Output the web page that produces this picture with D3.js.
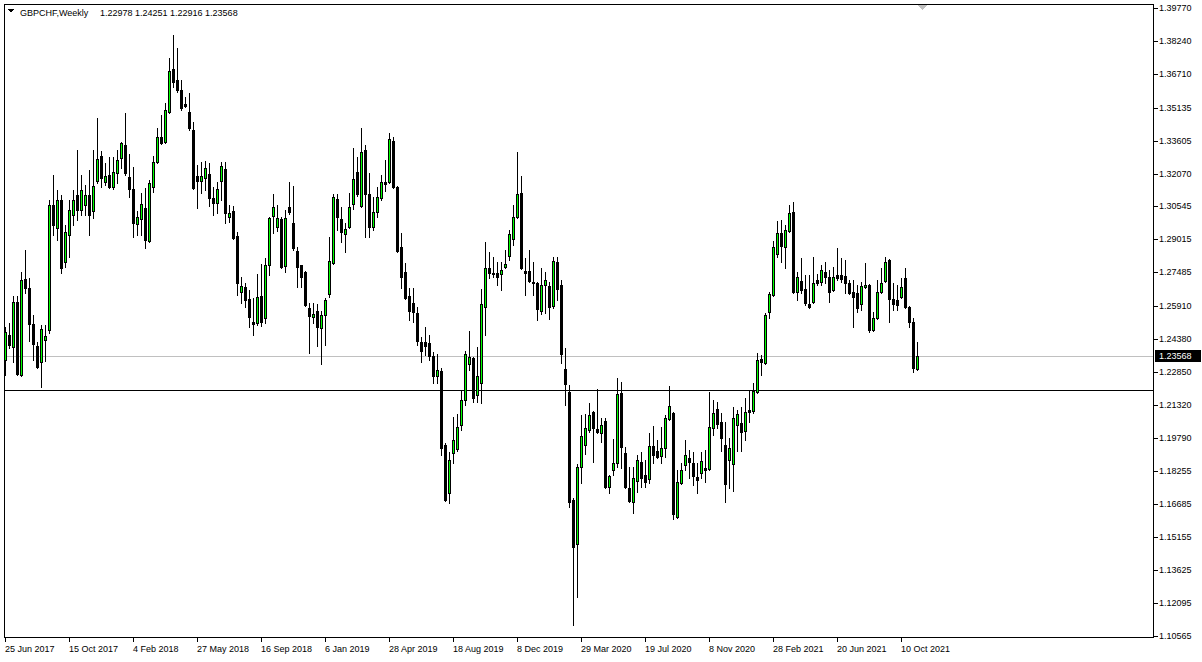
<!DOCTYPE html>
<html><head><meta charset="utf-8">
<script src="https://cdn.jsdelivr.net/npm/d3@7"></script>
<style>
html,body{margin:0;padding:0;background:#fff;overflow:hidden;}
svg{display:block;}
text{font-family:"Liberation Sans",Arial,sans-serif;font-size:9px;fill:#000;}
</style>
</head><body><svg id="c" width="1202" height="662"></svg>
<script>
const symbolLabel = "GBPCHF,Weekly";
const lastBarLabel = "1.22978 1.24251 1.22916 1.23568";

const opens = [
1.2340,1.2456,1.2401,1.2610,1.2270,1.2717,1.2675,1.2508,1.2405,1.2331,
1.2433,1.2480,1.3061,1.2954,1.3084,1.2796,1.2921,1.3014,1.3107,1.3038,
1.3061,1.3107,1.3033,1.3173,1.3289,1.3168,1.3200,1.3145,1.3210,1.3280,
1.3340,1.3191,1.3135,1.2973,1.2996,1.3047,1.2894,1.3145,1.3261,1.3377,
1.3354,1.3493,1.3693,1.3642,1.3596,1.3531,1.3493,1.3410,1.3196,1.3173,
1.3187,1.3205,1.3093,1.3070,1.3173,1.3228,1.3005,1.3033,1.2917,1.2656,
1.2680,1.2624,1.2517,1.2512,1.2638,1.2535,1.2782,1.3010,1.2959,1.2998,
1.2777,1.3052,1.2977,1.2847,1.2780,1.2749,1.2582,1.2540,1.2568,1.2489,
1.2549,1.2647,1.2791,1.3089,1.2996,1.2926,1.2959,1.3066,1.3214,1.3056,
1.3317,1.3112,1.2959,1.3028,1.3093,1.3168,1.3168,1.3360,1.3145,1.2866,
1.2749,1.2638,1.2605,1.2559,1.2424,1.2424,1.2419,1.2359,1.2266,1.2289,
1.1945,1.1722,1.1908,1.1926,1.2038,1.2154,1.2322,1.2350,1.2177,1.2233,
1.2587,1.2768,1.2745,1.2745,1.2740,1.2773,1.2824,1.2903,1.3005,1.3117,
1.2754,1.2754,1.2703,1.2698,1.2568,1.2689,1.2684,1.2591,1.2796,1.2689,
1.2298,1.2191,1.1689,1.1484,1.1843,1.1945,1.2015,1.2098,1.2019,1.2000,
1.2057,1.1750,1.1829,1.1861,1.2187,1.1908,1.1745,1.1680,1.1777,1.1866,
1.1805,1.1787,1.1940,1.1917,1.1894,1.1931,1.2066,1.2094,1.1610,1.1768,
1.1852,1.1884,1.1861,1.1796,1.1815,1.1838,1.1833,1.2024,1.2112,1.2052,
1.1945,1.1875,1.1857,1.2038,1.2047,1.2010,1.2108,1.2103,1.2191,1.2345,
1.2326,1.2563,1.2642,1.2833,1.2931,1.2866,1.2940,1.3028,1.2656,1.2707,
1.2670,1.2600,1.2610,1.2712,1.2703,1.2749,1.2726,1.2666,1.2735,1.2735,
1.2731,1.2698,1.2656,1.2652,1.2600,1.2680,1.2689,1.2480,1.2535,1.2656,
1.2707,1.2805,1.2624,1.2619,1.2633,1.2721,1.2587,1.2517,1.22978];

const highs = [
1.2494,1.2512,1.2638,1.2638,1.2749,1.2852,1.2722,1.2549,1.2424,1.2503,
1.2503,1.3084,1.3200,1.3131,1.3107,1.2968,1.3084,1.3131,1.3317,1.3200,
1.3154,1.3224,1.3317,1.3466,1.3312,1.3256,1.3284,1.3284,1.3317,1.3354,
1.3489,1.3298,1.3238,1.3033,1.3117,1.3140,1.3177,1.3289,1.3419,1.3479,
1.3535,1.3745,1.3851,1.3791,1.3642,1.3563,1.3582,1.3447,1.3247,1.3261,
1.3266,1.3256,1.3145,1.3168,1.3261,1.3261,1.3061,1.3056,1.2935,1.2726,
1.2698,1.2666,1.2629,1.2740,1.2787,1.2815,1.3005,1.3112,1.3061,1.3005,
1.3038,1.3168,1.3149,1.2866,1.2784,1.2752,1.2605,1.2605,1.2600,1.2568,
1.2629,1.2912,1.3112,1.3112,1.3052,1.2977,1.3117,1.3326,1.3284,1.3419,
1.3340,1.3210,1.3098,1.3145,1.3200,1.3270,1.3396,1.3377,1.3150,1.2931,
1.2791,1.2675,1.2675,1.2587,1.2447,1.2494,1.2456,1.2377,1.2368,1.2303,
1.1954,1.1912,1.2075,1.2089,1.2201,1.2382,1.2475,1.2354,1.2401,1.2670,
1.2889,1.2842,1.2819,1.2796,1.2796,1.2852,1.2945,1.3061,1.3307,1.3196,
1.2815,1.2852,1.2796,1.2703,1.2768,1.2749,1.2703,1.2819,1.2819,1.2712,
1.2396,1.2224,1.1698,1.1857,1.2084,1.2089,1.2140,1.2103,1.2205,1.2071,
1.2071,1.1805,1.1973,1.2257,1.2238,1.1936,1.1843,1.1843,1.1898,1.1912,
1.1875,1.2000,1.2033,1.1968,1.2029,1.2084,1.2219,1.2098,1.1829,1.1861,
1.1968,1.1922,1.1912,1.1861,1.1912,1.1922,1.2191,1.2154,1.2145,1.2094,
1.2052,1.1977,1.2121,1.2108,1.2121,1.2163,1.2196,1.2233,1.2373,1.2363,
1.2559,1.2656,1.2894,1.2986,1.2991,1.2968,1.3061,1.3075,1.2749,1.2815,
1.2735,1.2735,1.2819,1.2740,1.2782,1.2796,1.2759,1.2773,1.2861,1.2815,
1.2805,1.2712,1.2712,1.2689,1.2703,1.2791,1.2694,1.2563,1.2712,1.2768,
1.2819,1.2810,1.2698,1.2689,1.2721,1.2768,1.2591,1.2535,1.24251];

const lows = [
1.2270,1.2396,1.2331,1.2270,1.2266,1.2652,1.2429,1.2340,1.2303,1.2215,
1.2336,1.2466,1.2921,1.2898,1.2745,1.2773,1.2819,1.2968,1.2991,1.3014,
1.3014,1.2921,1.3000,1.3163,1.3145,1.3154,1.3140,1.3135,1.3163,1.3233,
1.3200,1.3098,1.2912,1.2921,1.2921,1.2861,1.2889,1.3121,1.3256,1.3345,
1.3349,1.3489,1.3610,1.3586,1.3503,1.3517,1.3410,1.3135,1.3047,1.3117,
1.3131,1.3056,1.3014,1.3024,1.3084,1.2977,1.2982,1.2903,1.2642,1.2605,
1.2587,1.2494,1.2456,1.2503,1.2498,1.2512,1.2735,1.2931,1.2940,1.2768,
1.2749,1.3020,1.2852,1.2680,1.2680,1.2591,1.2373,1.2512,1.2405,1.2322,
1.2410,1.2633,1.2787,1.2945,1.2889,1.2842,1.2954,1.3042,1.3103,1.3052,
1.2912,1.2912,1.2945,1.3005,1.3084,1.3126,1.3163,1.3140,1.2842,1.2675,
1.2624,1.2526,1.2517,1.2410,1.2331,1.2363,1.2340,1.2233,1.2233,1.1898,
1.1685,1.1675,1.1861,1.1917,1.2015,1.2131,1.2294,1.2145,1.2145,1.2140,
1.2456,1.2721,1.2726,1.2689,1.2666,1.2768,1.2805,1.2875,1.3000,1.2763,
1.2642,1.2703,1.2642,1.2526,1.2554,1.2559,1.2531,1.2582,1.2619,1.2326,
1.2131,1.1657,1.1108,1.1238,1.1768,1.1903,1.2005,1.1866,1.2000,1.1959,
1.1745,1.1722,1.1805,1.1843,1.1838,1.1745,1.1680,1.1629,1.1726,1.1750,
1.1750,1.1768,1.1861,1.1884,1.1861,1.1889,1.2061,1.1601,1.1605,1.1763,
1.1829,1.1791,1.1759,1.1722,1.1791,1.1773,1.1829,1.1991,1.2024,1.1917,
1.1680,1.1745,1.1731,1.1917,1.1917,1.1968,1.2052,1.2094,1.2187,1.2270,
1.2322,1.2535,1.2638,1.2819,1.2796,1.2768,1.2935,1.2652,1.2619,1.2652,
1.2596,1.2582,1.2605,1.2689,1.2689,1.2698,1.2610,1.2661,1.2712,1.2703,
1.2652,1.2647,1.2494,1.2563,1.2573,1.2675,1.2470,1.2475,1.2531,1.2652,
1.2703,1.2517,1.2573,1.2573,1.2628,1.2582,1.2494,1.2284,1.22916];

const closes = [
1.2470,1.2410,1.2610,1.2275,1.2712,1.2675,1.2508,1.2415,1.2308,1.2484,
1.2452,1.3061,1.2968,1.3084,1.2768,1.2935,1.3038,1.3084,1.3038,1.3131,
1.3107,1.3014,1.3149,1.3275,1.3187,1.3196,1.3145,1.3214,1.3270,1.3349,
1.3210,1.3135,1.2977,1.3005,1.3066,1.2898,1.3163,1.3261,1.3377,1.3349,
1.3503,1.3684,1.3633,1.3596,1.3512,1.3521,1.3419,1.3140,1.3173,1.3196,
1.3233,1.3093,1.3070,1.3135,1.3242,1.3024,1.3024,1.2908,1.2698,1.2684,
1.2619,1.2540,1.2508,1.2633,1.2517,1.2782,1.3000,1.3052,1.3000,1.2773,
1.3000,1.3028,1.2861,1.2773,1.2726,1.2596,1.2545,1.2554,1.2494,1.2549,
1.2619,1.2800,1.3098,1.3005,1.2935,1.2949,1.3052,1.3182,1.3112,1.3307,
1.3112,1.2959,1.3028,1.3098,1.3168,1.3159,1.3370,1.3145,1.2847,1.2726,
1.2629,1.2568,1.2563,1.2429,1.2382,1.2405,1.2359,1.2266,1.2294,1.1931,
1.1689,1.1875,1.1968,1.2029,1.2154,1.2368,1.2354,1.2164,1.2266,1.2600,
1.2768,1.2745,1.2740,1.2726,1.2759,1.2787,1.2926,1.3005,1.3112,1.2768,
1.2745,1.2707,1.2698,1.2577,1.2689,1.2712,1.2587,1.2800,1.2670,1.2368,
1.2229,1.1680,1.1470,1.1843,1.1987,1.2024,1.2084,1.2024,1.2005,1.2038,
1.1750,1.1801,1.1861,1.2182,1.1936,1.1750,1.1685,1.1791,1.1875,1.1791,
1.1773,1.1940,1.1898,1.1889,1.1931,1.2071,1.2126,1.1624,1.1773,1.1829,
1.1898,1.1866,1.1801,1.1782,1.1870,1.1829,1.2029,1.2094,1.2043,1.1977,
1.1763,1.1931,1.2071,1.2089,1.2005,1.2098,1.2098,1.2196,1.2340,1.2331,
1.2549,1.2647,1.2866,1.2931,1.2870,1.2945,1.3024,1.2656,1.2726,1.2666,
1.2605,1.2587,1.2698,1.2698,1.2759,1.2726,1.2656,1.2726,1.2721,1.2717,
1.2698,1.2652,1.2633,1.2582,1.2684,1.2689,1.2480,1.2535,1.2656,1.2698,
1.2796,1.2624,1.2600,1.2596,1.2680,1.2587,1.2517,1.2303,1.23568];

const priceTicks = [1.39770,1.38240,1.36710,1.35135,1.33605,1.32070,1.30545,1.29015,1.27485,1.25910,
                    1.24380,1.22850,1.21320,1.19790,1.18255,1.16685,1.15155,1.13625,1.12095,1.10565];
const dateLabels = ["25 Jun 2017","15 Oct 2017","4 Feb 2018","27 May 2018","16 Sep 2018","6 Jan 2019",
                    "28 Apr 2019","18 Aug 2019","8 Dec 2019","29 Mar 2020","19 Jul 2020","8 Nov 2020",
                    "28 Feb 2021","20 Jun 2021","10 Oct 2021"];
const dateLabelStep = 16;           // bars between date labels
const bidPrice = 1.23568;
const levelPrice = 1.2200;

const frame = {left:4, right:1154, top:4, bottom:638};
const bullColor = "#00ff00";

const svg = d3.select("#c").attr("shape-rendering","crispEdges");
const n = opens.length;
const x = d3.scaleLinear().domain([0, n-1]).range([5, 5 + 4*(n-1)]);
const y = d3.scaleLinear().domain([1.10565, 1.39770]).range([636, 8]);
const Y = v => Math.round(y(v));

svg.append("rect").attr("width",1202).attr("height",662).attr("fill","#fff");

svg.append("defs").append("clipPath").attr("id","clip")
  .append("rect").attr("x",frame.left).attr("y",frame.top)
  .attr("width",frame.right-frame.left).attr("height",frame.bottom-frame.top);

const plot = svg.append("g").attr("clip-path","url(#clip)");

// bid line and level line
plot.append("line").attr("x1",frame.left).attr("x2",frame.right)
  .attr("y1",Y(bidPrice)+0.5).attr("y2",Y(bidPrice)+0.5).attr("stroke","#c0c0c0");
plot.append("line").attr("x1",frame.left).attr("x2",frame.right)
  .attr("y1",Y(levelPrice)+0.5).attr("y2",Y(levelPrice)+0.5).attr("stroke","#000");

const bars = opens.map((o,i)=>({i,o,h:highs[i],l:lows[i],c:closes[i]}));
const g = plot.selectAll("g.bar").data(bars).join("g").attr("class","bar");
g.append("rect")
  .attr("x",d=>x(d.i)).attr("width",1)
  .attr("y",d=>Y(Math.max(d.h,d.o,d.c)))
  .attr("height",d=>Y(Math.min(d.l,d.o,d.c))-Y(Math.max(d.h,d.o,d.c))+1)
  .attr("fill","#000");
g.append("rect")
  .attr("x",d=>x(d.i)-1).attr("width",3)
  .attr("y",d=>Y(Math.max(d.o,d.c)))
  .attr("height",d=>Math.max(1,Y(Math.min(d.o,d.c))-Y(Math.max(d.o,d.c))+1))
  .attr("fill","#000");
g.filter(d=>d.c>d.o && Y(d.o)-Y(d.c)>1).append("rect")
  .attr("x",d=>x(d.i)).attr("width",1)
  .attr("y",d=>Y(d.c)+1)
  .attr("height",d=>Y(d.o)-Y(d.c)-1)
  .attr("fill",bullColor);

// frame
svg.append("rect").attr("x",frame.left+0.5).attr("y",frame.top+0.5)
  .attr("width",frame.right-frame.left-1).attr("height",frame.bottom-frame.top-1)
  .attr("fill","none").attr("stroke","#000");

// price axis
const pa = svg.append("g");
priceTicks.forEach(p=>{
  const yy = Y(p);
  pa.append("line").attr("x1",frame.right).attr("x2",frame.right+4)
    .attr("y1",yy+0.5).attr("y2",yy+0.5).attr("stroke","#000");
  pa.append("text").attr("x",frame.right+5).attr("y",yy).attr("dy","0.35em").text(p.toFixed(5));
});
// bid price tag
const by = Y(bidPrice);
pa.append("rect").attr("x",frame.right+1).attr("y",by-6).attr("width",46).attr("height",12).attr("fill","#000");
pa.append("text").attr("x",frame.right+5).attr("y",by).attr("dy","0.35em").style("fill","#fff").text(bidPrice.toFixed(5));

// date axis
const da = svg.append("g");
dateLabels.forEach((lab,k)=>{
  const xx = x(k*dateLabelStep);
  da.append("line").attr("x1",xx+0.5).attr("x2",xx+0.5)
    .attr("y1",frame.bottom).attr("y2",frame.bottom+4).attr("stroke","#000");
  da.append("text").attr("x",xx).attr("y",frame.bottom+14).text(lab);
});

// title
svg.append("path").attr("d","M8,9 L14,9 L11,13 Z").attr("fill","#000");
svg.append("text").attr("x",20).attr("y",16).text(symbolLabel);
svg.append("text").attr("x",100).attr("y",16).text(lastBarLabel);

// shift marker
svg.append("path").attr("d","M917,5 L927,5 L922,10 Z").attr("fill","#c0c0c0");
</script>
</body></html>
